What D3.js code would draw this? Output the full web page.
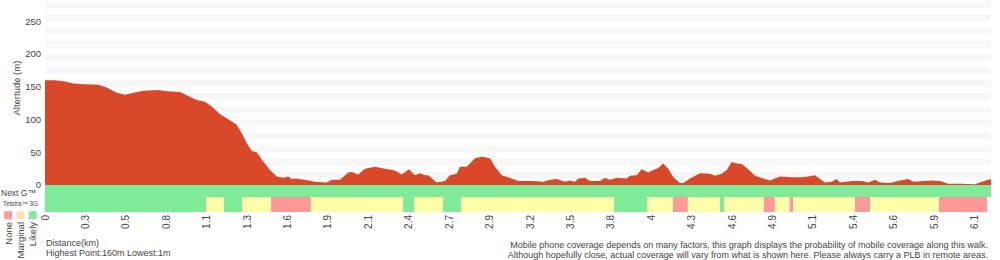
<!DOCTYPE html>
<html>
<head>
<meta charset="utf-8">
<script src="https://cdn.jsdelivr.net/npm/d3@7"></script>
<style>
  body { margin: 0; background: #fff; }
  text { font-family: "Liberation Sans", Arial, Helvetica, sans-serif; fill: #444; }
</style>
</head>
<body>
<div id="chart"></div>
<script>
// elevation profile, distance (km) and altitude (m)
var elevKm = [0, 0.066, 0.133, 0.188, 0.254, 0.354, 0.410, 0.476, 0.532, 0.587, 0.653, 0.753, 0.809, 0.897,
  0.952, 1.008, 1.063, 1.108, 1.163, 1.229, 1.274, 1.307, 1.340, 1.373, 1.407, 1.450, 1.495, 1.540, 1.583,
  1.617, 1.639, 1.661, 1.728, 1.794, 1.872, 1.905, 1.960, 2.015, 2.038, 2.082, 2.126, 2.193, 2.259, 2.326,
  2.370, 2.419, 2.458, 2.492, 2.525, 2.547, 2.603, 2.658, 2.691, 2.736, 2.757, 2.802, 2.857, 2.902, 2.957,
  2.990, 3.035, 3.101, 3.145, 3.245, 3.311, 3.355, 3.400, 3.455, 3.488, 3.522, 3.544, 3.588, 3.621, 3.688,
  3.721, 3.754, 3.799, 3.865, 3.887, 3.932, 3.965, 4.009, 4.042, 4.075, 4.108, 4.142, 4.175, 4.219, 4.241,
  4.286, 4.352, 4.419, 4.452, 4.496, 4.530, 4.563, 4.596, 4.629, 4.673, 4.718, 4.773, 4.817, 4.850, 4.884,
  4.962, 5.028, 5.072, 5.116, 5.150, 5.183, 5.227, 5.261, 5.282, 5.360, 5.427, 5.470, 5.515, 5.548, 5.615,
  5.681, 5.736, 5.770, 5.836, 5.891, 5.947, 6.002, 6.089, 6.179, 6.224, 6.286];
var elevM = [160, 160, 158, 155, 154, 153, 149, 141, 138, 141, 144, 145, 143, 142,
  136, 130, 127, 120, 108, 99, 92, 79, 64, 52, 50, 36, 23, 13, 11,
  13, 9, 10, 8, 5, 4, 8, 8, 19, 20, 16, 25, 28, 25, 22,
  16, 24, 15, 18, 15, 15, 4, 6, 15, 17, 28, 28, 41, 43, 41,
  28, 15, 10, 6, 6, 5, 8, 9, 5, 7, 5, 10, 11, 6, 6,
  11, 8, 11, 10, 14, 15, 24, 19, 23, 26, 33, 25, 12, 3, 3,
  10, 18, 17, 14, 17, 23, 35, 33, 32, 24, 14, 10, 7, 10, 13,
  12, 12, 13, 15, 9, 4, 5, 9, 4, 6, 6, 4, 8, 4, 3,
  7, 9, 5, 6, 7, 6, 2, 2, 1, 5, 9];

var totalKm = 6.286;

// x axis ticks
var tickKm = [0, 0.269, 0.537, 0.806, 1.074, 1.343, 1.612, 1.880, 2.149, 2.417, 2.686, 2.955,
  3.223, 3.492, 3.760, 4.029, 4.298, 4.566, 4.835, 5.103, 5.372, 5.641, 5.909, 6.178];
var tickLabels = ["0", "0.3", "0.5", "0.8", "1.1", "1.3", "1.6", "1.9", "2.1", "2.4", "2.7", "2.9",
  "3.2", "3.5", "3.8", "4", "4.3", "4.6", "4.9", "5.1", "5.4", "5.6", "5.9", "6.1"];
var yTicks = [0, 50, 100, 150, 200, 250];

// coverage, segment start points (km) and likelihood
var nextGBreaks = [0, 6.286];
var nextGLevels = ["likely"];
var g3Breaks = [0, 1.070, 1.189, 1.309, 1.502, 1.767, 2.379, 2.452, 2.645, 2.764, 3.781, 4.000, 4.173,
  4.272, 4.485, 4.512, 4.777, 4.850, 4.948, 4.972, 5.382, 5.482, 5.940, 6.259];
var g3Levels = ["likely", "marginal", "likely", "marginal", "none", "marginal", "likely", "marginal",
  "likely", "marginal", "likely", "marginal", "none", "marginal", "likely", "marginal", "none",
  "marginal", "none", "marginal", "none", "marginal", "none"];

var legendKeys = ["none", "marginal", "likely"];
var legendNames = ["None", "Marginal", "Likely"];

var barColor = { none: "#ff9999", marginal: "#ffffaa", likely: "#7deb98" };
var legendColor = { none: "#ff9999", marginal: "#ffe0a8", likely: "#7deb98" };

var width = 1000, height = 260;

var svg = d3.select("#chart").append("svg")
  .attr("width", width)
  .attr("height", height);

var x = d3.scaleLinear().domain([0, totalKm]).range([45, 991]);
var y = d3.scaleLinear().domain([0, 280]).range([185, 1.66]);

// striped background
svg.append("g").selectAll("rect")
  .data(d3.range(10, 280, 20))
  .enter().append("rect")
  .attr("x", x(0))
  .attr("width", x(totalKm) - x(0))
  .attr("y", d => y(d + 10))
  .attr("height", d => y(d) - y(d + 10))
  .attr("fill", "#f7f7f7");

// elevation
var area = d3.area()
  .x((d, i) => x(elevKm[i]))
  .y0(y(0))
  .y1(d => y(d));

svg.append("path")
  .datum(elevM)
  .attr("d", area)
  .attr("fill", "#d94828");

// y axis labels
svg.append("g").selectAll("text")
  .data(yTicks)
  .enter().append("text")
  .attr("x", 41)
  .attr("y", d => y(d))
  .attr("dy", "0.35em")
  .attr("text-anchor", "end")
  .style("font-size", "9.5px")
  .text(d => d);

svg.append("text")
  .attr("transform", "translate(20," + y(148) + ") rotate(-90)")
  .attr("text-anchor", "middle")
  .style("font-size", "9.5px")
  .text("Altertude (m)");

// coverage rows
function drawRow(breaks, levels, y0, y1) {
  var segs = levels.map((lv, i) => ({
    start: breaks[i],
    end: i + 1 < breaks.length ? breaks[i + 1] : totalKm,
    level: lv
  }));
  svg.append("g").selectAll("rect")
    .data(segs)
    .enter().append("rect")
    .attr("x", d => x(d.start))
    .attr("width", d => x(d.end) - x(d.start))
    .attr("y", y0)
    .attr("height", y1 - y0)
    .attr("fill", d => barColor[d.level]);
}
drawRow(nextGBreaks, nextGLevels, 185, 197);
drawRow(g3Breaks, g3Levels, 197, 212);

svg.append("text")
  .attr("x", 1).attr("y", 196)
  .style("font-size", "8.5px")
  .text("Next G\u2122");

svg.append("text")
  .attr("x", 3).attr("y", 206)
  .style("font-size", "6.3px")
  .text("Telstra\u2122 3G");

// legend
var lg = svg.append("g").selectAll("g")
  .data(legendKeys)
  .enter().append("g")
  .attr("transform", (d, i) => "translate(" + (3.8 + i * 12.3) + ",210.8)");

lg.append("rect")
  .attr("width", 8.6).attr("height", 8.6)
  .attr("fill", d => legendColor[d])
  .attr("stroke", "#fff")
  .attr("stroke-width", 0.8);

lg.append("text")
  .attr("transform", "translate(4.6,11.2) rotate(-90)")
  .attr("dy", "0.35em")
  .attr("text-anchor", "end")
  .style("font-size", "9.5px")
  .text((d, i) => legendNames[i]);

// x tick labels
svg.append("g").selectAll("text")
  .data(tickKm)
  .enter().append("text")
  .attr("transform", d => "translate(" + x(d) + ",215) rotate(-90)")
  .attr("dy", "0.35em")
  .attr("text-anchor", "end")
  .style("font-size", "10px")
  .text((d, i) => tickLabels[i]);

// footer
svg.append("text")
  .attr("x", 46).attr("y", 245.5)
  .style("font-size", "9px")
  .text("Distance(km)");

svg.append("text")
  .attr("x", 46).attr("y", 255.5)
  .style("font-size", "9px")
  .text("Highest Point:160m Lowest:1m");

svg.append("text")
  .attr("x", 988).attr("y", 247.5)
  .attr("text-anchor", "end")
  .style("font-size", "9px")
  .text("Mobile phone coverage depends on many factors, this graph displays the probability of mobile coverage along this walk.");

svg.append("text")
  .attr("x", 988).attr("y", 257.5)
  .attr("text-anchor", "end")
  .style("font-size", "9px")
  .text("Although hopefully close, actual coverage will vary from what is shown here. Please always carry a PLB in remote areas.");
</script>
</body>
</html>
